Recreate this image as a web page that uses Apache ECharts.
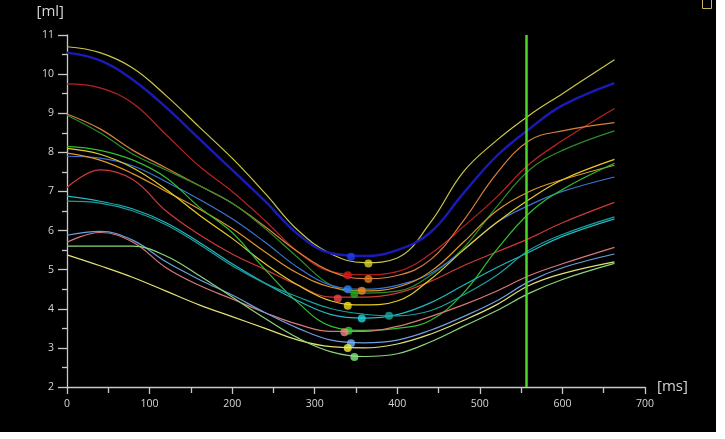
<!DOCTYPE html>
<html>
<head>
<meta charset="utf-8">
<title>volume curves</title>
<script src="https://cdn.jsdelivr.net/npm/echarts@6/dist/echarts.min.js"></script>
<style>
    body{margin:0;background:#fff;}
    #main{width:716px;height:432px;background:#000;}
</style>
</head>
<body>
<div id="main"></div>
<script>

/********** 数据 ********** */

var timeMs = [0, 40, 80, 120, 160, 200, 240, 280, 320, 360, 400, 440, 480, 520, 560, 600, 663];

var yellowTop  = [10.7, 10.55, 10.15, 9.45, 8.65, 7.85, 6.95, 6.0, 5.4, 5.18, 5.3, 6.2, 7.5, 8.3, 8.95, 9.5, 10.37];
var blueTop    = [10.55, 10.35, 9.85, 9.15, 8.35, 7.55, 6.75, 5.9, 5.42, 5.35, 5.5, 5.95, 6.95, 7.9, 8.6, 9.2, 9.77];
var redTop     = [9.75, 9.65, 9.25, 8.45, 7.65, 7.0, 6.25, 5.45, 4.95, 4.87, 4.95, 5.4, 6.1, 6.85, 7.7, 8.3, 9.12];
var orangeTop  = [8.98, 8.6, 8.05, 7.6, 7.15, 6.7, 6.1, 5.45, 4.95, 4.77, 4.85, 5.25, 6.25, 7.45, 8.3, 8.55, 8.76];
var greenDark  = [8.95, 8.5, 7.95, 7.55, 7.15, 6.7, 6.05, 5.3, 4.6, 4.4, 4.45, 4.85, 5.55, 6.6, 7.55, 8.05, 8.55];
var blueMid    = [7.9, 7.85, 7.65, 7.25, 6.8, 6.3, 5.7, 5.05, 4.6, 4.5, 4.6, 4.9, 5.5, 6.2, 6.65, 7.0, 7.37];
var orangeMid  = [7.98, 7.8, 7.45, 7.0, 6.55, 6.05, 5.45, 4.9, 4.55, 4.46, 4.55, 4.95, 5.7, 6.5, 7.0, 7.3, 7.67];
var redMid     = [7.1, 7.55, 7.3, 6.5, 5.9, 5.4, 5.0, 4.6, 4.3, 4.3, 4.4, 4.7, 5.1, 5.45, 5.8, 6.2, 6.72];
var yellowMid  = [8.1, 7.95, 7.6, 7.05, 6.4, 5.8, 5.15, 4.6, 4.2, 4.1, 4.2, 4.75, 5.5, 6.2, 6.8, 7.3, 7.82];
var greenMid   = [8.15, 8.05, 7.8, 7.35, 6.6, 5.95, 5.0, 4.15, 3.55, 3.45, 3.5, 3.7, 4.4, 5.5, 6.45, 7.05, 7.72];
var cyanMid    = [6.88, 6.75, 6.55, 6.2, 5.7, 5.15, 4.65, 4.2, 3.85, 3.76, 3.85, 4.15, 4.6, 5.05, 5.45, 5.85, 6.3];
var tealMid    = [6.75, 6.7, 6.5, 6.15, 5.65, 5.1, 4.65, 4.3, 4.0, 3.86, 3.82, 3.95, 4.35, 4.85, 5.5, 5.9, 6.35];
var pinkLow    = [5.7, 5.95, 5.7, 5.05, 4.6, 4.25, 3.9, 3.6, 3.42, 3.42, 3.55, 3.8, 4.1, 4.45, 4.85, 5.15, 5.57];
var blueLow    = [5.88, 5.98, 5.75, 5.2, 4.75, 4.35, 3.9, 3.5, 3.2, 3.13, 3.2, 3.45, 3.8, 4.2, 4.7, 5.05, 5.4];
var yellowLow  = [5.38, 5.1, 4.8, 4.45, 4.1, 3.8, 3.5, 3.2, 3.03, 3.0, 3.1, 3.35, 3.7, 4.1, 4.6, 4.9, 5.2];
var greenLow   = [5.6, 5.6, 5.6, 5.35, 4.85, 4.3, 3.75, 3.25, 2.9, 2.78, 2.85, 3.15, 3.55, 3.95, 4.4, 4.75, 5.16];

// 每条曲线的最小点
var minTime   = [365, 344, 340, 365, 348, 340, 357, 328, 340, 341, 357, 390, 336, 344, 340, 348];
var minVolume = [5.16, 5.33, 4.86, 4.76, 4.38, 4.50, 4.46, 4.26, 4.08, 3.44, 3.75, 3.82, 3.40, 3.12, 3.00, 2.77];

var markerTime = 556;

var xTicks = [0, 100, 200, 300, 400, 500, 600, 700];
var yTicks = [2, 3, 4, 5, 6, 7, 8, 9, 10, 11];


/********** 样式 ********** */

var curves = [
    {data : yellowTop, line : "#c9c64a", dot : "#d8d432"},
    {data : blueTop,   line : "#1a1ab8", dot : "#2040f0", width : 2.4},
    {data : redTop,    line : "#b82222", dot : "#e01c1c"},
    {data : orangeTop, line : "#d6803c", dot : "#e07a1c"},
    {data : greenDark, line : "#2a8e2a", dot : "#22b022"},
    {data : blueMid,   line : "#3a74d8", dot : "#2a86f0"},
    {data : orangeMid, line : "#e0952a", dot : "#f08a20"},
    {data : redMid,    line : "#cc3a3a", dot : "#f04444"},
    {data : yellowMid, line : "#e6cc2a", dot : "#f0e020"},
    {data : greenMid,  line : "#30c030", dot : "#30d030"},
    {data : cyanMid,   line : "#22b8c0", dot : "#20d4e0"},
    {data : tealMid,   line : "#1c9c9c", dot : "#1ea8a0"},
    {data : pinkLow,   line : "#d87878", dot : "#f08480"},
    {data : blueLow,   line : "#6e9ee0", dot : "#74b2f4"},
    {data : yellowLow, line : "#e0e074", dot : "#f4f040"},
    {data : greenLow,  line : "#8ad47a", dot : "#80ee80"}
];

var axisGray = "#c8c8c8";
var textGray = "#d4d4d4";


/********** 曲线图 ********** */

function chart(){

    var myChart = echarts.init(document.getElementById("main"));

    var series = [];

    $each(curves, function(index, item){
        series.push({
            type : "line",
            data : timeMs.map(function(t, i){ return [t, item.data[i]]; }),
            smooth : 0.4,
            showSymbol : false,
            silent : true,
            z : 2,
            lineStyle : {color : item.line, width : item.width || 1.2}
        });
    });

    series.push({
        type : "scatter",
        data : minTime.map(function(t, i){ return [t, minVolume[i]]; }),
        symbolSize : 8,
        silent : true,
        z : 4,
        itemStyle : {
            color : function(p){ return curves[p.dataIndex].dot; }
        }
    });

    series.push({
        type : "line",
        data : [],
        silent : true,
        markLine : {
            symbol : "none",
            silent : true,
            label : {show : false},
            lineStyle : {color : "#4cd626", width : 2.5, type : "solid"},
            data : [{xAxis : markerTime}]
        }
    });

    var option = {

        animation : false,

        backgroundColor : "#000",

        grid : {left : 67, right : 71, top : 35, bottom : 45},

        // 右上角的小方框
        graphic : [{
            type : "rect",
            left : 700,
            top : -3,
            shape : {width : 9, height : 9},
            style : {fill : "none", stroke : "#c8b45a", lineWidth : 1}
        }],

        xAxis : {
            type : "value",
            min : xTicks[0],
            max : xTicks[xTicks.length - 1],
            interval : 100,
            name : "[ms]",
            nameLocation : "end",
            nameGap : 12,
            nameTextStyle : {color : textGray, fontSize : 15, fontFamily : "Open Sans", padding : [22, 0, 0, 0]},
            axisLine : {lineStyle : {color : axisGray, width : 1.3}},
            axisTick : {length : 7, lineStyle : {color : axisGray, width : 1.3}},
            minorTick : {show : true, splitNumber : 2, length : 6, lineStyle : {color : axisGray, width : 1.3}},
            axisLabel : {color : textGray, fontSize : 10.5, fontFamily : "Open Sans", margin : 12},
            splitLine : {show : false}
        },

        yAxis : {
            type : "value",
            min : yTicks[0],
            max : yTicks[yTicks.length - 1],
            interval : 1,
            name : "[ml]",
            nameLocation : "end",
            nameGap : 16,
            nameTextStyle : {color : textGray, fontSize : 15, fontFamily : "Open Sans", align : "right", padding : [0, 3, 0, 0]},
            axisLine : {lineStyle : {color : axisGray, width : 1.3}},
            axisTick : {length : 9, lineStyle : {color : axisGray, width : 1.3}},
            minorTick : {show : true, splitNumber : 2, length : 5, lineStyle : {color : axisGray, width : 1.3}},
            axisLabel : {color : textGray, fontSize : 10.5, fontFamily : "Open Sans", margin : 13},
            splitLine : {show : false}
        },

        series : series
    };

    myChart.setOption(option);
}

function $each(arr, fn){
    for(var i = 0; i < arr.length; i++){ fn(i, arr[i]); }
}

chart();

</script>
</body>
</html>
